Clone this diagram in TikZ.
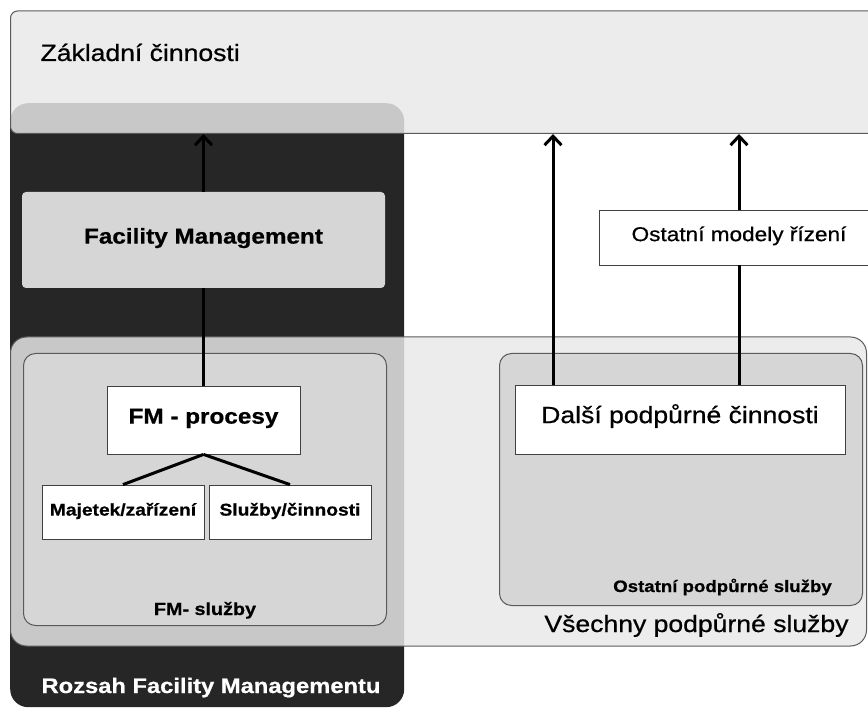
\documentclass[tikz,border=0pt]{standalone}
\usepackage{fontspec}
\setmainfont{Liberation Sans}[FakeStretch=1.13,
  UprightFeatures={FakeBold=0.7}, BoldFeatures={FakeBold=0.7}]
\usetikzlibrary{arrows.meta}

\definecolor{panel}{HTML}{E8E8E8}
\definecolor{dark}{HTML}{262626}
\definecolor{inner}{HTML}{D6D6D6}
\definecolor{edge}{HTML}{5A5A5A}

\tikzset{
  zone/.style={draw=edge, line width=1pt, fill=panel, fill opacity=0.84, text opacity=1,
    anchor=north west, inner sep=0pt},
  group/.style={draw=edge, line width=1pt, fill=inner, rounded corners=12pt,
    anchor=north west, inner sep=0pt},
  box/.style={draw=black!75, line width=0.8pt, fill=white, inner sep=0pt,
    text height=0.72em, text depth=0pt},
  link/.style={line width=3pt},
  up/.style={link, -{Straight Barb[length=9pt,width=17pt]}}
}

\newcommand{\txtbig}{\fontsize{23.5}{28}\selectfont}
\newcommand{\txtmid}{\fontsize{20}{24}\selectfont}
\newcommand{\boldbig}{\fontsize{21.5}{26}\selectfont\bfseries}
\newcommand{\boldsmall}{\fontsize{17}{20}\selectfont\bfseries}

\begin{document}
\begin{tikzpicture}[x=1pt,y=-1pt]
\useasboundingbox (0,0) rectangle (868,708);
\clip (0,0) rectangle (868,708);

% oblasti
\node[fill=dark, rounded corners=18pt, minimum width=394pt, minimum height=604pt,
  anchor=north west, inner sep=0pt] (rozsah) at (10,103) {};
\node[zone, rounded corners=7pt, minimum width=880pt, minimum height=122.5pt] (zakl) at (10,10.5) {};
\node[zone, rounded corners=16pt, minimum width=856pt, minimum height=309pt] (vse) at (10,336.5) {};
\node[group, minimum width=363pt, minimum height=272pt] (fmsl) at (23,353) {};
\node[group, minimum width=363pt, minimum height=252pt] (ostsl) at (499,353) {};

% bloky
\node[box, fill=inner, draw=none, rounded corners=4pt, minimum width=363pt, minimum height=96pt,
  font=\boldbig] (fm) at (203.5,240) {Facility Management};
\node[box, minimum width=193pt, minimum height=68pt, font=\boldbig] (proc) at (203.5,420) {FM - procesy};
\node[box, minimum width=162pt, minimum height=54pt, font=\boldsmall] (maj) at (123,512) {Majetek/zařízení};
\node[box, minimum width=162pt, minimum height=54pt, font=\boldsmall] (slu) at (290,512) {Služby/činnosti};
\node[box, minimum width=330pt, minimum height=69pt, font=\txtbig] (dalsi) at (680,419.5) {Další podpůrné činnosti};
\node[box, minimum width=280pt, minimum height=55pt, font=\txtmid] (modely) at (739,237.5) {Ostatní modely řízení};

% popisky
\node[anchor=base west, font=\txtbig] (zakltxt) at (37,61) {Základní činnosti};
\node[anchor=base, text=white, font=\fontsize{21}{25}\selectfont\bfseries] (rozsahtxt) at (211,693) {Rozsah Facility Managementu};
\node[anchor=base, font=\fontsize{17.5}{21}\selectfont\bfseries] (fmsltxt) at (205,615) {FM- služby};
\node[anchor=base, font=\fontsize{16.5}{20}\selectfont\bfseries] (ostsltxt) at (722.5,592) {Ostatní podpůrné služby};
\node[anchor=base, font=\txtbig] (vsetxt) at (696.5,632) {Všechny podpůrné služby};

% spoje
\draw[up] (fm.north) -- (fm.north |- zakl.south);
\draw[link] (proc.north) -- (fm.south);
\draw[link] (proc.south) -- (maj.north);
\draw[link] (proc.south) -- (slu.north);
\coordinate (dl) at ([xshift=-127pt]dalsi.north);
\draw[up] (dl) -- (dl |- zakl.south);
\draw[link] (dalsi.north -| modely.south) -- (modely.south);
\draw[up] (modely.north) -- (modely.north |- zakl.south);
\end{tikzpicture}
\end{document}
